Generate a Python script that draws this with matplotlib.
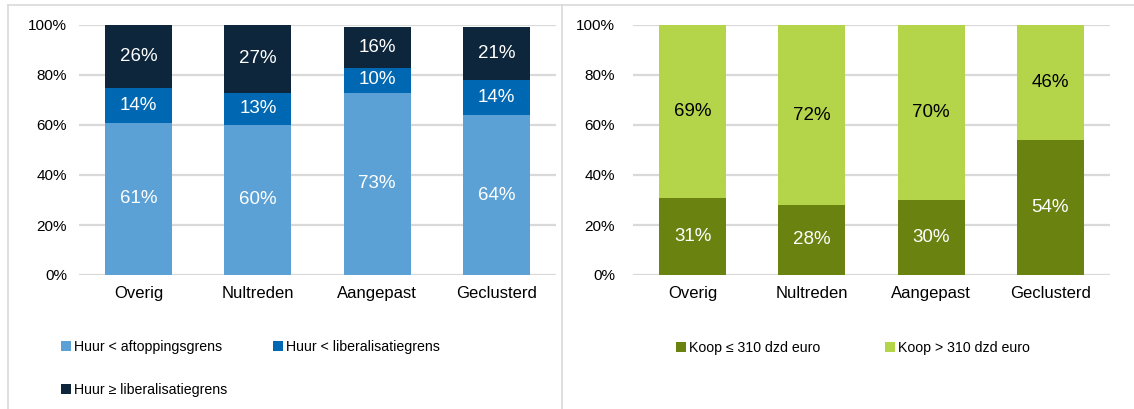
import matplotlib
matplotlib.use("Agg")
import matplotlib.pyplot as plt
from matplotlib.patches import Patch
from matplotlib.lines import Line2D
import numpy as np

plt.rcParams['font.family'] = ['Liberation Sans', 'DejaVu Sans']

categories = ["Overig", "Nultreden", "Aangepast", "Geclusterd"]

# Rental segments (%)
huur_aftopping = [61, 60, 73, 64]
huur_liberalisatie = [14, 13, 10, 14]
huur_boven = [26, 27, 16, 21]

# Owner-occupied segments (%)
koop_laag = [31, 28, 30, 54]
koop_hoog = [69, 72, 70, 46]

yticks = [0, 20, 40, 60, 80, 100]

c_light_blue = "#5BA1D5"
c_mid_blue = "#0068B3"
c_dark_blue = "#0D263B"
c_dark_green = "#6A8210"
c_light_green = "#B4D44A"
grid_c = "#D9D9D9"

W, H = 1134, 409
fig = plt.figure(figsize=(W / 100, H / 100), dpi=100)


def px_axes(x0, x1, y_top, y_bot):
    return fig.add_axes([x0 / W, 1 - y_bot / H, (x1 - x0) / W, (y_bot - y_top) / H])


def style(ax, ypad):
    ax.set_ylim(0, 100)
    ax.set_xlim(-0.5, 3.5)
    ax.set_yticks(yticks)
    ax.set_yticklabels([f"{t}%" for t in yticks], fontsize=11)
    ax.yaxis.grid(True, color=grid_c, linewidth=1.6)
    ax.set_axisbelow(True)
    for s in ax.spines.values():
        s.set_visible(False)
    ax.tick_params(axis="both", length=0, colors="#000000")
    ax.tick_params(axis="y", pad=ypad)
    ax.tick_params(axis="x", pad=8)
    ax.set_xticks(range(len(categories)))
    ax.set_xticklabels(categories, fontsize=12)


def stack(ax, series, colors, text_colors):
    x = np.arange(len(categories))
    bottom = np.zeros(len(categories))
    for vals, col, tc in zip(series, colors, text_colors):
        vals = np.array(vals, dtype=float)
        bars = ax.bar(x, vals, 0.56, bottom=bottom, color=col, edgecolor="none")
        ax.bar_label(bars, labels=[f"{v:.0f}%" for v in vals], label_type="center",
                     color=tc, fontsize=13.5)
        bottom += vals


ax1 = px_axes(79, 556, 25, 275)
style(ax1, 8.5)
stack(ax1, [huur_aftopping, huur_liberalisatie, huur_boven],
      [c_light_blue, c_mid_blue, c_dark_blue], ["white", "white", "white"])

ax2 = px_axes(633, 1110, 25, 275)
style(ax2, 13)
stack(ax2, [koop_laag, koop_hoog],
      [c_dark_green, c_light_green], ["white", "#000000"])


def legend_entry(label, color, x, y):
    h = Patch(facecolor=color, edgecolor="none")
    fig.legend([h], [label], loc="center left", bbox_to_anchor=(x / W, 1 - y / H),
               frameon=False, fontsize=10.2, handlelength=0.7, handleheight=0.7,
               handletextpad=0.2, borderpad=0, borderaxespad=0)


legend_entry("Huur < aftoppingsgrens", c_light_blue, 61, 347)
legend_entry("Huur < liberalisatiegrens", c_mid_blue, 273, 347)
legend_entry("Huur \u2265 liberalisatiegrens", c_dark_blue, 61, 390)
legend_entry("Koop \u2264 310 dzd euro", c_dark_green, 676, 348)
legend_entry("Koop > 310 dzd euro", c_light_green, 885, 348)

# Panel frames
for xs, ys in [([8, W], [5, 5]), ([8, 8], [5, H]), ([562, 562], [5, H])]:
    fig.add_artist(Line2D([x / W for x in xs], [1 - y / H for y in ys],
                          color=grid_c, linewidth=1.2))

fig.savefig("out.png", dpi=100)
